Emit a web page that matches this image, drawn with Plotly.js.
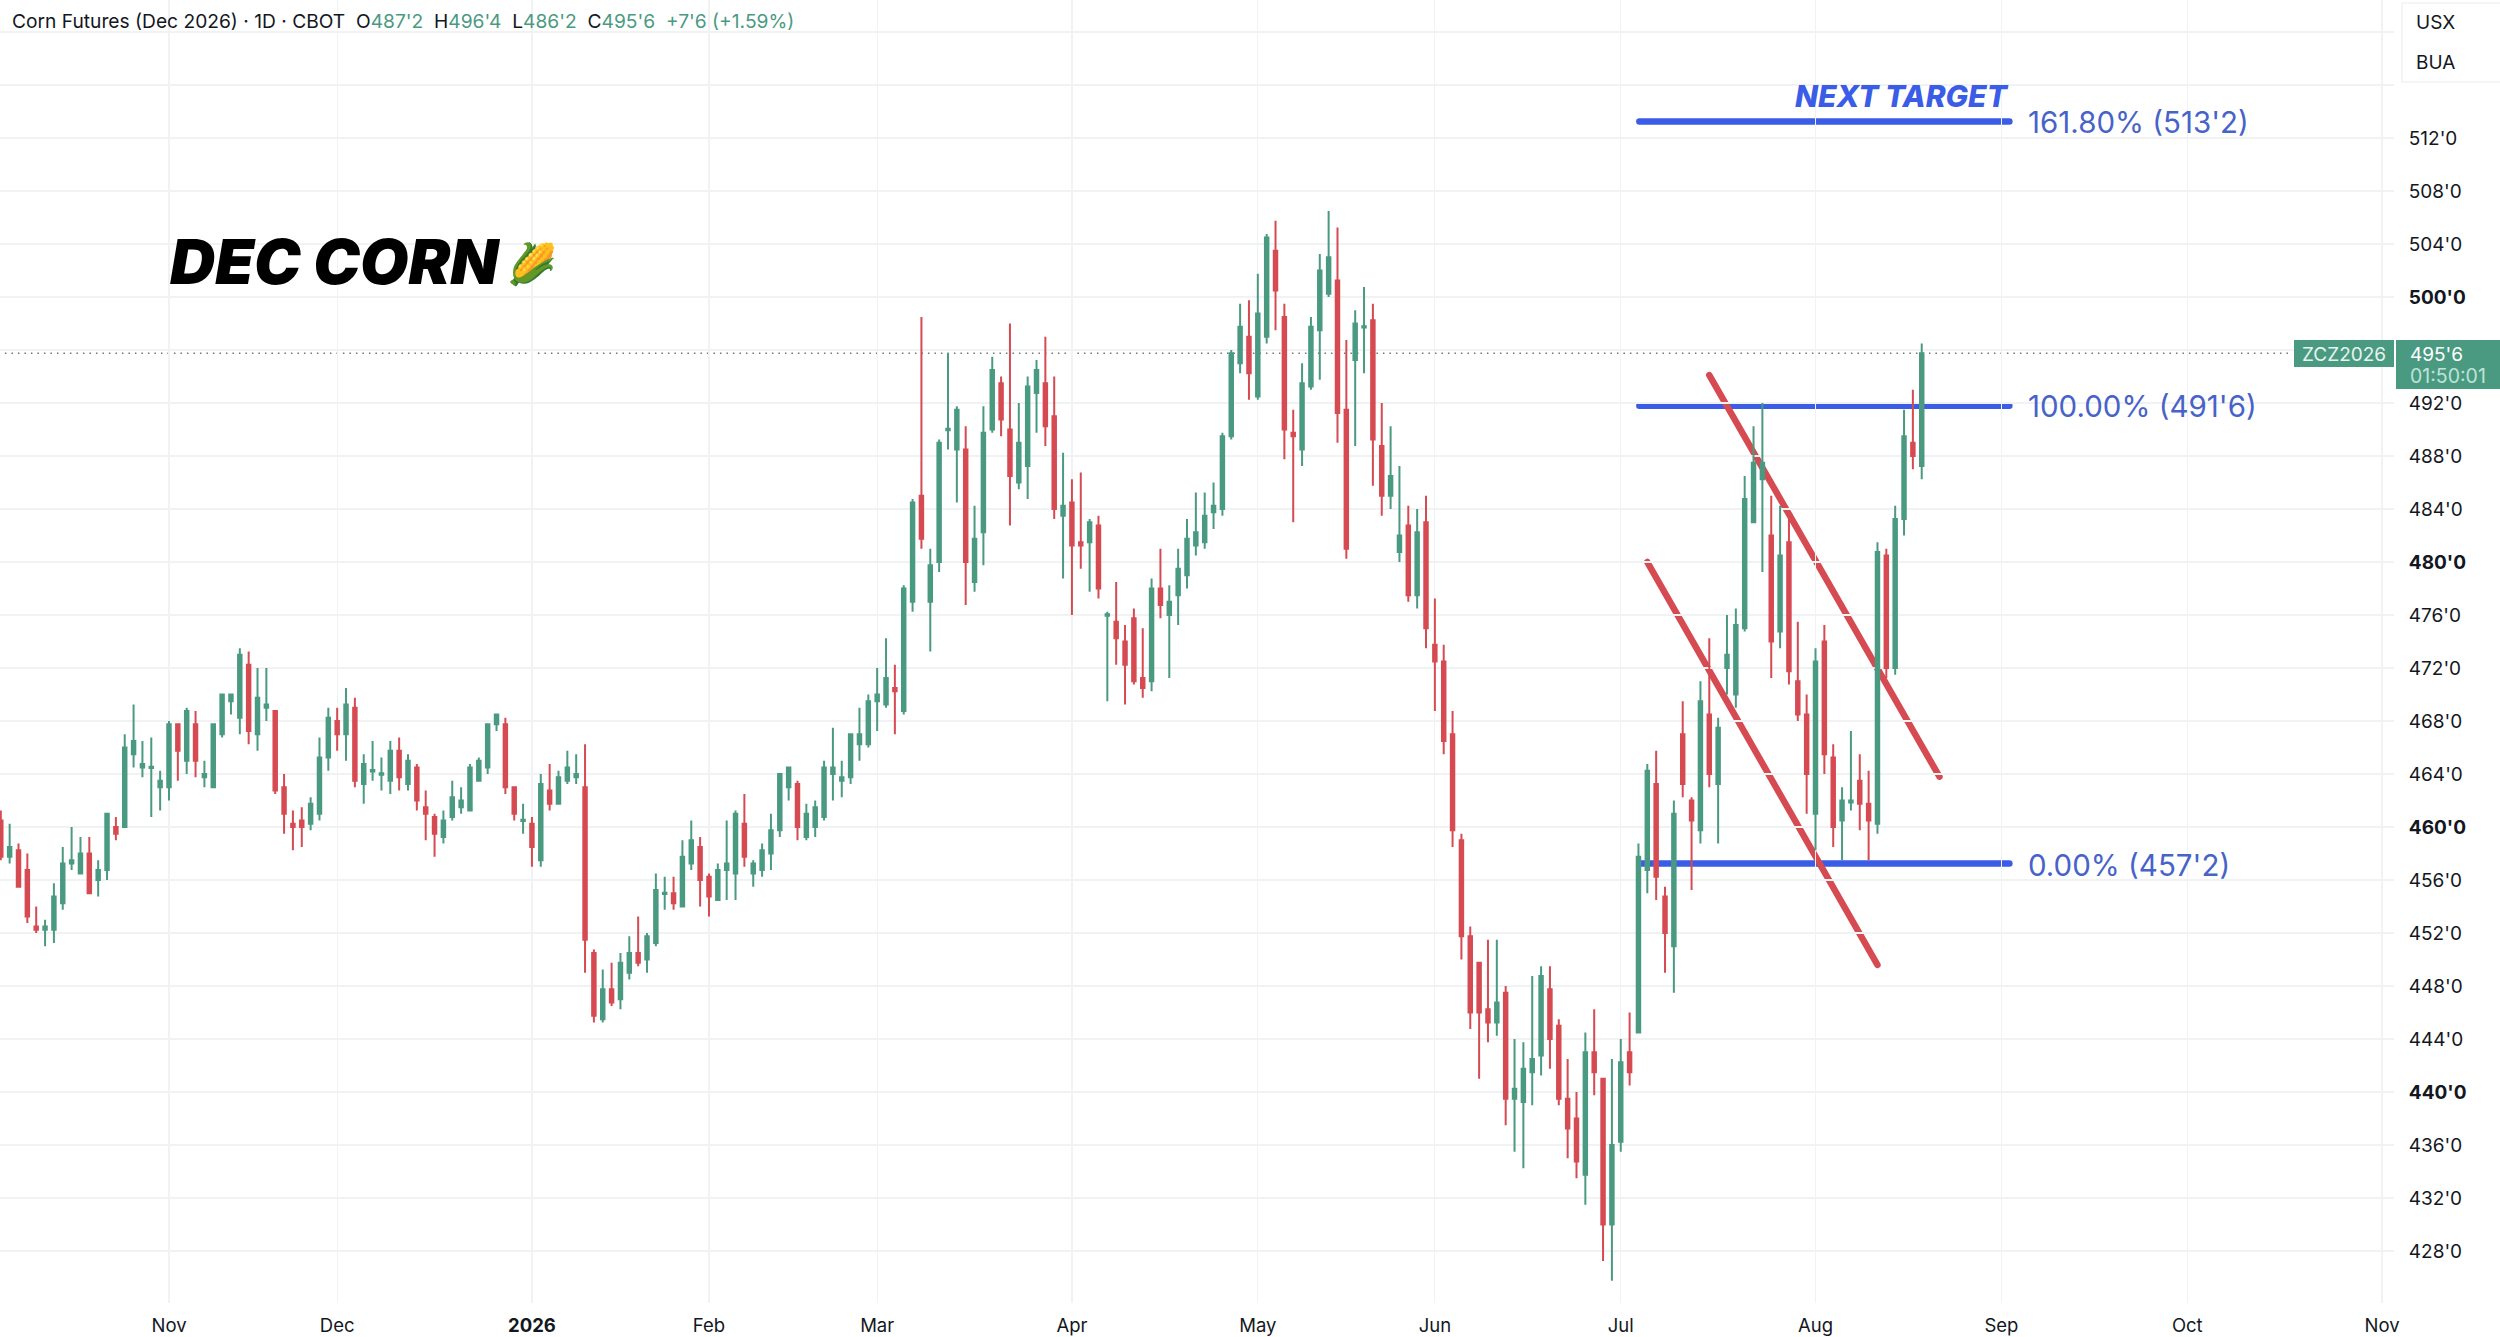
<!DOCTYPE html>
<html>
<head>
<meta charset="utf-8">
<script src="https://cdn.plot.ly/plotly-3.0.1.min.js"></script>
<style>
html,body{margin:0;padding:0;background:#fff}
#chart{width:2500px;height:1337px}
</style>
</head>
<body>
<div id="chart"></div>
<script>
const opens=[460.5,457.75,458.25,456.75,452.5,452.25,452.25,454.25,457.25,456.5,
458,456,456.75,460,460,465.5,464.5,464.45,463,463,
467.75,465,467.75,463.75,463,467,469.5,468.25,472.25,467,
469,468.75,463,460.25,460.5,460.25,461,465.25,468,467,
469,463.25,464.2,463.95,463.5,465.75,463.25,464.5,461.5,460.75,
459.25,460.75,461.5,461.25,463.5,464.5,467.75,467.75,463,460.45,
460.25,457.5,462.75,461.75,463.5,463.75,463,450.5,445.5,447.75,
447,449,450.5,450,451.25,454.95,455,454,457.25,458.5,
456.25,454.5,456.75,456.5,460.25,456.5,456.75,458,459.75,463,
463.25,459.25,460,460.75,464,463.5,463.75,466.25,466.25,469.5,
469.25,470.5,468.75,477,485,477,480,489.95,488.5,488.5,
478.5,482.25,490,493.5,490,486,487.25,492.75,493.5,491,
483.5,484.5,481.5,481.5,482.75,475.95,475.5,474,475.75,471.25,
471,478,476,477.5,479,481.25,481.5,483.75,484,489.5,
495,497,492.5,497,503.5,498.5,489.75,488.5,493.25,497.5,
500.25,501.25,491.5,495.25,497.7,498.25,488.75,485,480.75,482.75,
477.5,483,473.75,472.5,467,459,451.75,449.75,446.25,445.25,
447.5,439.5,439.25,441.5,442.75,447.75,445,439.5,438,433.75,
443,441,430,436.25,443,444.5,456.75,463.25,454.75,451,
467,462,459.75,468.5,463.25,472,470,475,483,486.25,
482,474.75,481.5,471,468.5,461,474,465.25,460.5,461.85,
463.5,461.75,460.25,480.5,472,483.25,489,487.25];
const closes=[457.75,458.5,455.5,453.25,452.25,452.5,454.75,457.25,457.5,458,
455,456.75,461,459.5,466,466.5,464.75,464.55,463.5,467.75,
465.75,468.75,465,464,467.75,470,470,473,467.25,469.75,
469.25,462.75,461,460,460,461.75,465.25,468.25,467,469.25,
463.5,464.75,464.3,464.05,465.75,463.75,465,462,461,459.5,
460.5,462.25,462,464.5,465,467.75,468.5,463,461,460.55,
458.5,463.25,461.75,463.75,464.5,464,451.5,445.75,447.75,446.75,
449.75,450.5,449.75,451.75,455.25,455.05,454.25,457.75,459,456,
454.75,456.75,457.25,461,457.75,457.25,458.25,459.75,464,464.5,
460,461,461.5,464.5,464.5,463.75,467,467,469.5,470,
471.25,470.25,478,484.5,481.75,479.75,489,490.05,491.5,480,
481.75,489.75,494.5,490.75,486.5,489,493.25,494.5,490.25,484,
484.25,481.25,481.25,483,478,476.05,474.25,472.25,471,470.5,
478,476.75,477,479.5,481.75,482.25,483.5,484.25,489.5,495.75,
497.75,494.25,498.75,504.5,500.5,490,489.5,493.5,497.75,502,
503,491.25,481,498,497.8,489.25,485,486.5,482,477.5,
482.25,475,472.5,466.5,459.75,451.75,446,446,445.25,446.75,
439.5,440.25,441.75,442.5,448.75,444,439.5,437.25,434.75,443,
441.5,430,436,442.25,441.5,457.75,464.25,456.25,452,461,
463.25,460.5,469.5,464,467.5,473,475.25,484.75,487.5,487.5,
474,480.5,471.75,468.5,464,472.5,465.5,460,462,462,
461.75,460.5,480.75,472,483.25,489.5,488,495.75];
const highs=[461.25,460.25,458.75,458,454,453,455.75,458.5,460,459.25,
459.25,457.5,461,460.75,467,469.25,466.5,466.75,464.25,468,
467.75,469,468.75,465,467.75,470,470,473.5,473.25,472,
472,468.75,464,461.25,461.5,462.25,466.75,469,469,470.5,
469.75,465.5,466.5,465.25,466.5,466.75,465.5,464.75,462.75,461,
461.25,463.5,463,464.75,465.25,467.75,468.5,468.25,463,461.75,
460.75,464,464.75,464.25,465.75,465.5,466.25,450.75,449.25,449.75,
450.5,451.75,453.25,452,456.5,456.25,456.25,459,460.5,459.25,
456.5,457.25,460.5,461.25,462.5,457.5,458.75,461,464,464.5,
463.5,461.75,462,465,467.5,465,467,469,470,472,
474.25,472.25,478.25,484.75,498.5,481,489.25,495.75,491.75,490.25,
484.25,491.75,495.5,494,498,492,494,495.25,497,494,
488.25,486.25,486.75,483.25,483.5,476.25,478.5,475.25,476.5,475,
478.75,481,478.25,481,483.25,485.25,485.25,486,489.75,496,
499.5,499.75,501.75,504.75,505.75,499.5,491.5,495,498.5,503.25,
506.5,505.25,496.75,499,500.75,499.5,492,490.25,487.25,484.25,
484,485,477.25,473.75,468.75,459.5,452.5,449.75,451.5,451.5,
448,444,443.75,448.75,449.5,449.5,445.5,442.5,440,444.5,
446.25,441,442.5,444,446,458.75,464.75,465.75,455.5,462,
469.5,462.25,471,474.25,468.25,476,476.5,486.5,490.25,492,
485,484.25,483.25,475.5,470,473.5,475.25,466.25,463,467.25,
465.5,464.25,481.5,481,484.25,491.5,493,496.5];
const lows=[457.5,457.25,455.5,452.75,452,451,451.25,453.75,456.75,456.5,
455,454.75,456,459,460,464.5,463.75,460.75,461.25,462,
463.5,464,463.75,463,463,466.75,468.5,467,466.25,465.75,
468,462.5,459.5,458.25,458.5,459.75,460.5,464.25,465.75,465,
463,461.75,463.5,462.75,462.5,462.75,462.75,461.25,459,457.75,
458.75,460.5,461,461.25,463.5,464,467.25,462.5,460.5,459.5,
457,457,461.25,461.75,463.25,463.25,449,445.25,445.25,446.5,
446.25,448.5,449.5,449,451,453.75,453.75,454,456.75,454,
453.25,454.5,454.5,454.5,457,455.5,456.25,456.75,459.25,462,
459,459,459.25,460.5,462,462.25,463.25,465,466,467.25,
469,467,468.5,476.25,481,473.25,479.25,488.5,484.5,476.75,
477.75,479.75,489.75,489.5,482.75,485.5,484.75,489.75,488.75,483.25,
478.75,476,479.5,477.75,477.25,469.5,472.25,469.25,470.75,469.75,
470.25,475.75,471.25,475.25,478,480.5,481,482.5,483.5,489.25,
494.25,492.25,492.25,496.5,497.5,487.75,483,487.25,493,493.75,
500,489,480.25,488.75,494.25,485.75,483.5,484,480,477,
476.5,473.5,468.75,465.5,458.5,450,444.75,441,443.75,444.25,
437.5,435.5,434.25,439,441.25,441.75,439,435,433.5,431.5,
439.75,427.25,425.75,435.5,440.5,444.5,455,454.5,449,447.5,
462.25,455.25,458.75,463,458.75,470,469,474.75,483,479.25,
471.25,473.5,470.75,468,461,458.25,464,458.5,457.5,461.25,
459.75,457.5,459.5,471.25,471.5,482,487,486.25];

const monthTickIndex=[19,38,60,80,99,121,142,162,183,205,226,247,269];
const monthTickLabels=['Nov','Dec','<b>2026</b>','Feb','Mar','Apr','May','Jun','Jul','Aug','Sep','Oct','Nov'];
const priceTicks=[428,432,436,440,444,448,452,456,460,464,468,472,476,480,484,488,492,496,500,504,508,512,516,520];
const priceTickLabels=["428'0","432'0","436'0","<b>440'0</b>","444'0","448'0","452'0","456'0","<b>460'0</b>","464'0","468'0","472'0","476'0","<b>480'0</b>","484'0","488'0","492'0","","<b>500'0</b>","504'0","508'0","512'0","",""];
const fibLevels=[513.25,491.8,457.25];
const fibLabels=["161.80% (513'2)","100.00% (491'6)","0.00% (457'2)"];
const fibSpan=[185.1,226.9];
const channelLowerX=[186,212], channelLowerY=[480,449.6];
const channelUpperX=[193,219], channelUpperY=[494.1,463.8];
const lastPrice=495.75;

const PW=2394,PH=1303;
const px=x=>x/PW, py=y=>1-y/PH;
const BLUE='#3a5ce6',BLUET='#4763c9',RED='#d64a52',GREEN='#4a9a82',INK='#131722';
const FONT='Inter, "Noto Sans", sans-serif';

const xIdx=opens.map((_,i)=>i);
const trace={type:'candlestick',x:xIdx,open:opens,high:highs,low:lows,close:closes,
  increasing:{line:{color:GREEN,width:2},fillcolor:GREEN},
  decreasing:{line:{color:RED,width:2},fillcolor:RED},
  whiskerwidth:0,hoverinfo:'skip',showlegend:false};

const lineShape=(x0,x1,y0,y1,color,width,dash)=>({type:'line',xref:'x',yref:'y',x0,x1,y0,y1,layer:'below',line:{color,width,dash:dash||'solid'}});
const shapes=[
  lineShape(-1,258.6,lastPrice,lastPrice,'#70757e',1.5,'1.5px,5px'),
  ...fibLevels.map(v=>lineShape(fibSpan[0],fibSpan[1],v,v,BLUE,6.5)),
  lineShape(channelLowerX[0],channelLowerX[1],channelLowerY[0],channelLowerY[1],RED,6.5),
  lineShape(channelUpperX[0],channelUpperX[1],channelUpperY[0],channelUpperY[1],RED,6.5),
  {type:'rect',xref:'paper',yref:'paper',x0:px(2294),x1:px(2394),y0:py(340),y1:py(367),fillcolor:GREEN,line:{width:0},layer:'above'},
  {type:'rect',xref:'paper',yref:'paper',x0:px(2396),x1:px(2500),y0:py(340),y1:py(389),fillcolor:GREEN,line:{width:0},layer:'above'},
  {type:'rect',xref:'paper',yref:'paper',x0:px(2402),x1:px(2520),y0:py(3),y1:py(82),fillcolor:'#fff',line:{color:'#f1f2f3',width:1.5},layer:'above'}
];

const note=(text,x,y,size,color,anchor,extra)=>Object.assign({text,xref:'paper',yref:'paper',x:px(x),y:py(y),xanchor:anchor||'left',yanchor:'middle',showarrow:false,font:{family:FONT,size,color}},extra||{});
const g=t=>`<span style="color:${GREEN}">${t}</span>`;
const annotations=[
  note(`Corn Futures (Dec 2026) · 1D · CBOT  O${g("487'2")}  H${g("496'4")}  L${g("486'2")}  C${g("495'6")}  ${g("+7'6 (+1.59%)")}`,10,21,19.2,INK),
  {text:'DEC CORN',xref:'paper',yref:'paper',x:px(168),y:py(261),xanchor:'left',yanchor:'middle',showarrow:false,font:{family:FONT,size:62.5,color:'#000',weight:900,style:'italic'}},
  {text:'🌽',xref:'paper',yref:'paper',x:px(532),y:py(264),xanchor:'center',yanchor:'middle',showarrow:false,font:{size:40}},
  {text:'NEXT TARGET',xref:'paper',yref:'paper',x:px(2011),y:py(96),xanchor:'right',yanchor:'middle',showarrow:false,font:{family:FONT,size:30,color:BLUE,weight:800,style:'italic'}},
  ...fibLabels.map((t,i)=>note(t,2026,[122,406,865][i],29.5,BLUET)),
  note('ZCZ2026',2344,354,19,'#e8f4f0','center'),
  note("495'6",2408,354,19,'#fff'),
  note('01:50:01',2408,376,19.5,'#bfe3d8'),
  note('USX',2414,22,19,INK),
  note('BUA',2414,62,19,INK)
];

const layout={
  width:2500,height:1337,margin:{l:0,r:106,t:0,b:34,pad:0},
  paper_bgcolor:'#fff',plot_bgcolor:'#fff',showlegend:false,dragmode:false,
  font:{family:FONT,color:INK,size:19},
  boxgap:0.44,
  xaxis:{type:'linear',range:[-0.09,270.35],tickmode:'array',tickvals:monthTickIndex,ticktext:monthTickLabels,
    showgrid:true,gridcolor:'#f1f2f3',gridwidth:1.2,zeroline:false,showline:false,ticks:'outside',ticklen:6,tickcolor:'#fff',
    rangeslider:{visible:false},tickfont:{family:FONT,size:18.5,color:INK},fixedrange:true},
  yaxis:{type:'linear',side:'right',range:[424.08,522.415],tickmode:'array',tickvals:priceTicks,ticktext:priceTickLabels,
    showgrid:true,gridcolor:'#f1f2f3',gridwidth:1.2,zeroline:false,showline:false,ticks:'outside',ticklen:10,tickcolor:'#fff',
    tickfont:{family:FONT,size:19,color:INK},fixedrange:true},
  shapes,annotations
};
Plotly.newPlot('chart',[trace],layout,{displayModeBar:false,staticPlot:true}).then(()=>{
  document.querySelectorAll('.shapelayer path').forEach(p=>{
    if(parseFloat(p.style.strokeWidth)>=6) p.style.strokeLinecap='round';
  });
});
</script>
</body>
</html>
